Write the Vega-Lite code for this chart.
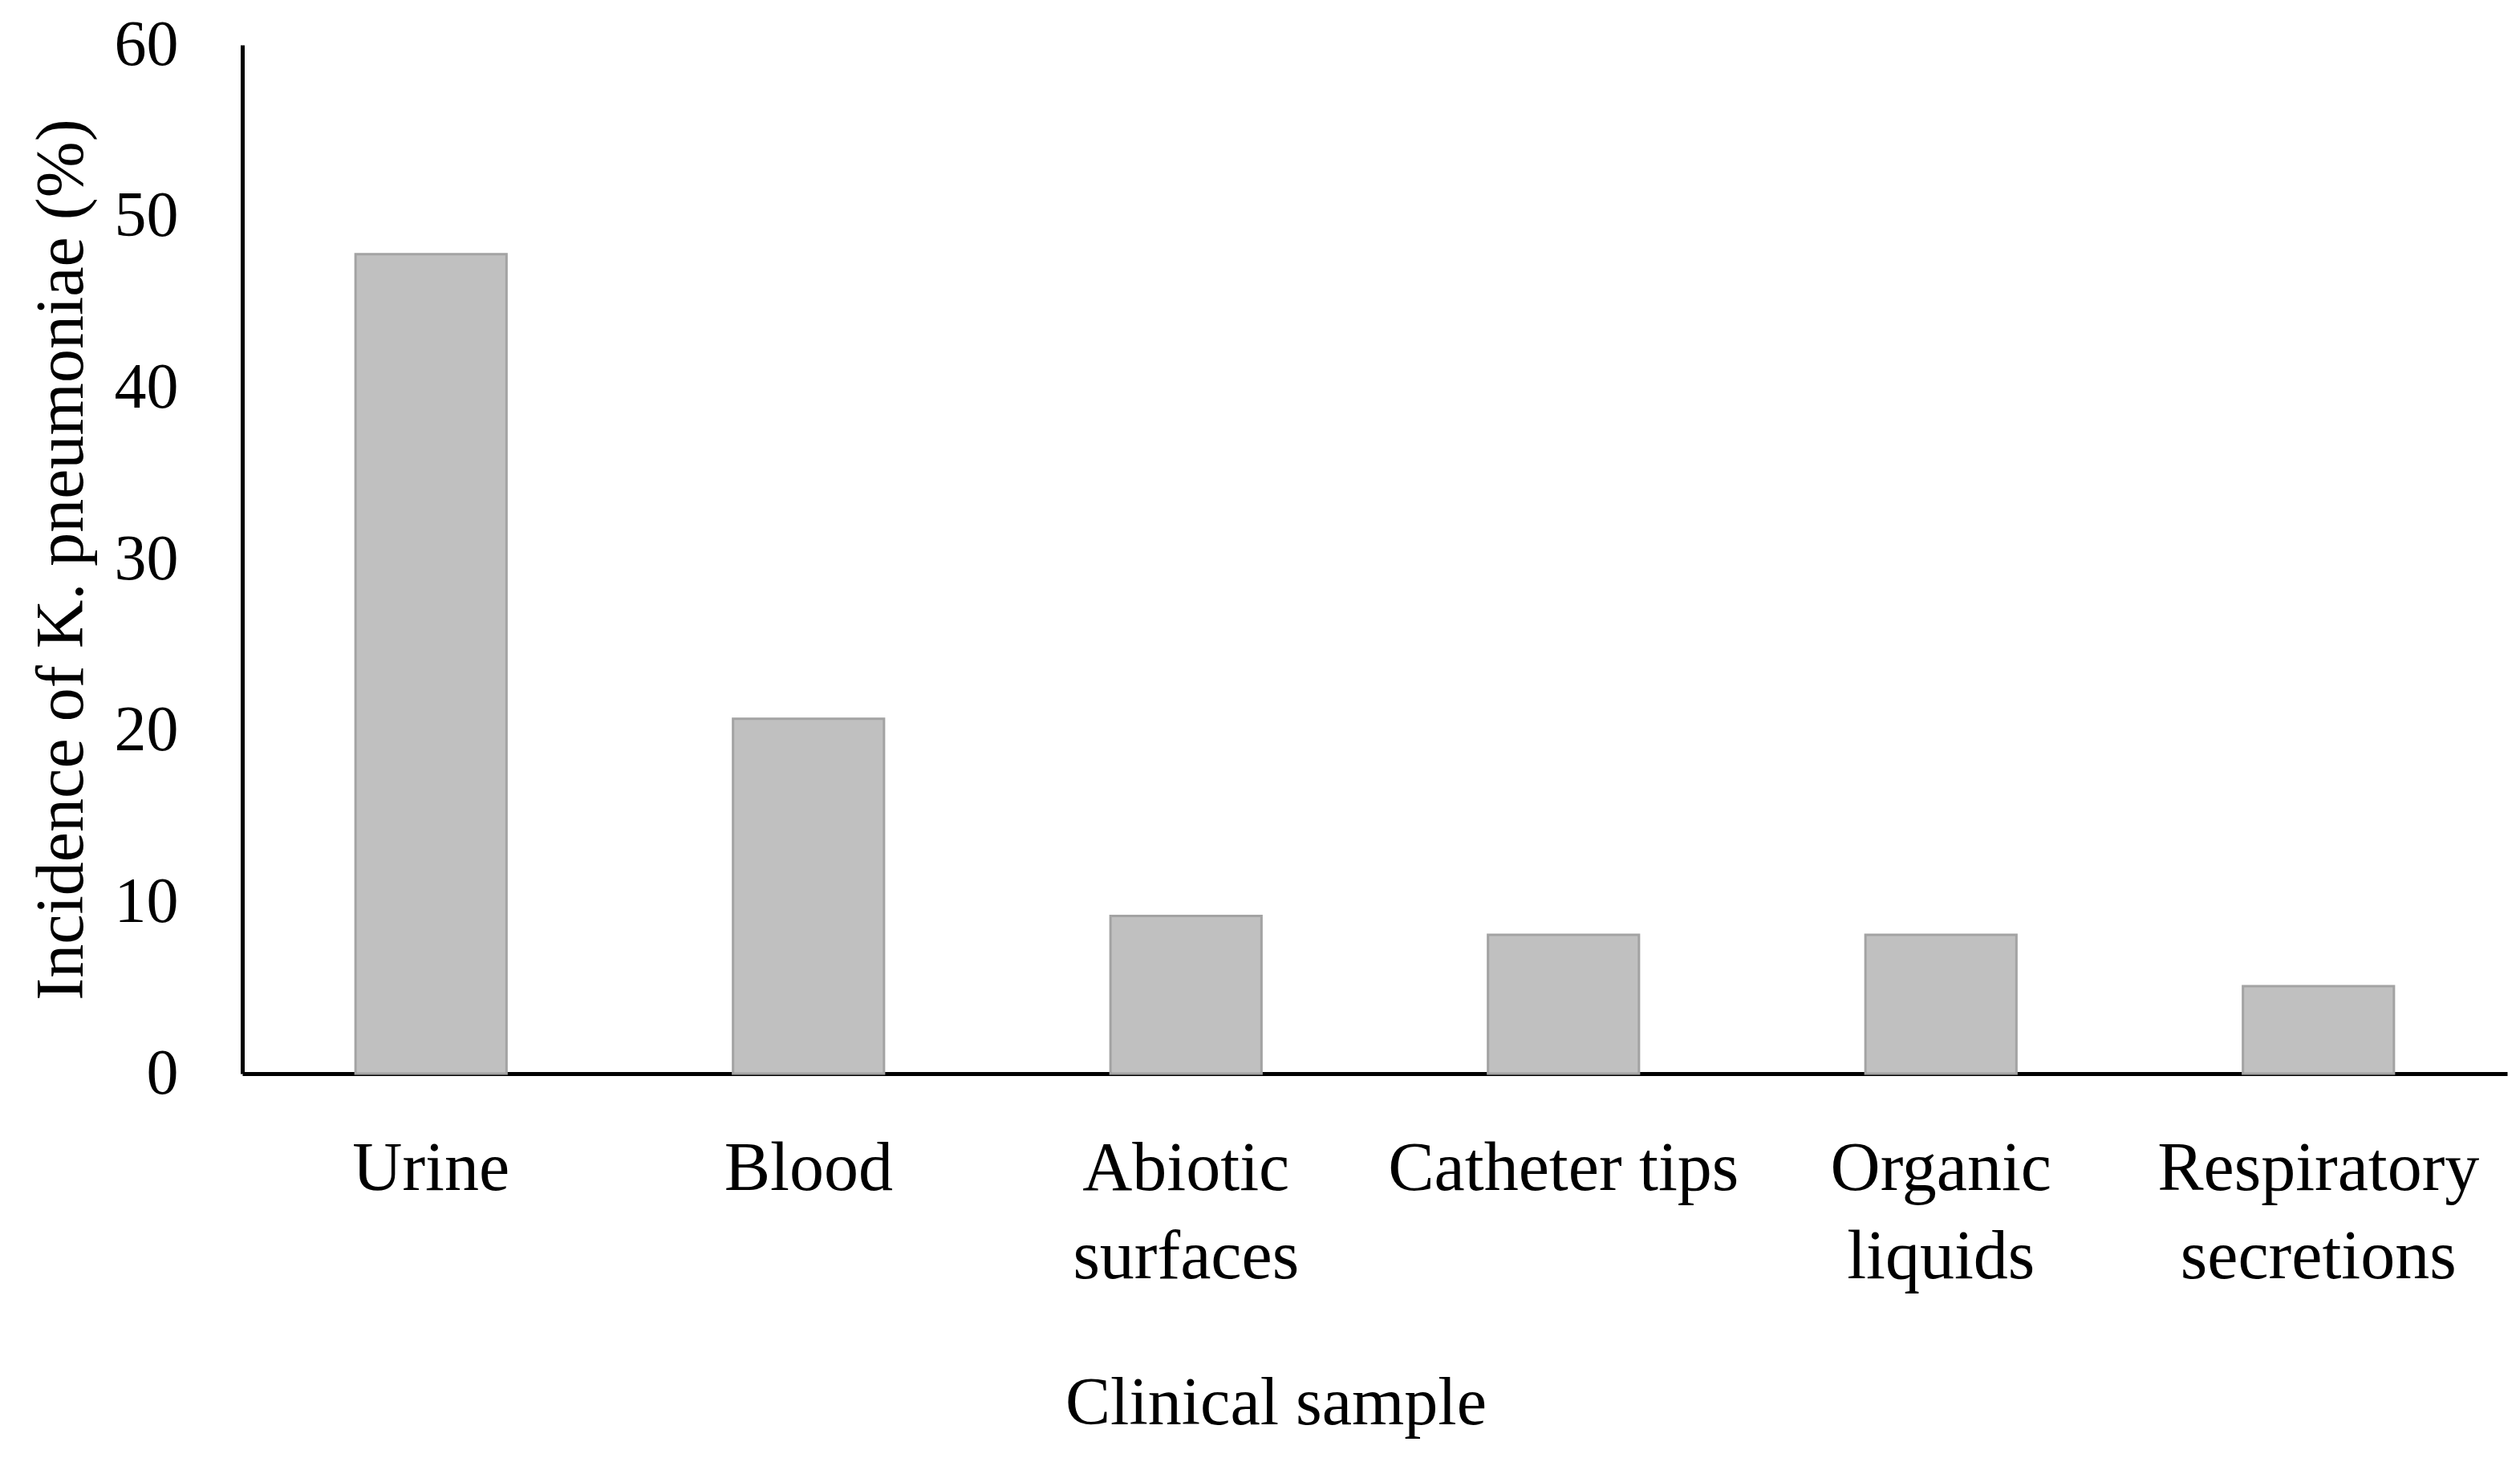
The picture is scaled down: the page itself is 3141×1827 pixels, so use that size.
{
  "$schema": "https://vega.github.io/schema/vega-lite/v6.json",
  "autosize": {"type": "none"},
  "padding": {"left": 302, "top": 56, "right": 16, "bottom": 489},
  "width": 2823,
  "height": 1282,
  "background": "white",
  "config": {
    "view": {"stroke": null},
    "font": "Liberation Serif",
    "axis": {"grid": false, "ticks": false, "domainColor": "#000000", "domainWidth": 5, "labelColor": "#000000", "titleColor": "#000000", "labelFont": "Liberation Serif", "titleFont": "Liberation Serif", "titleFontWeight": "normal", "labelLimit": 0}
  },
  "data": {
    "values": [
      {"sample": "Urine", "incidence": 47.8},
      {"sample": "Blood", "incidence": 20.7},
      {"sample": "Abiotic surfaces", "incidence": 9.2},
      {"sample": "Catheter tips", "incidence": 8.1},
      {"sample": "Organic liquids", "incidence": 8.1},
      {"sample": "Respiratory secretions", "incidence": 5.1}
    ]
  },
  "mark": {"type": "bar", "color": "#c0c0c0", "stroke": "#a3a3a3", "strokeWidth": 3},
  "encoding": {
    "x": {
      "field": "sample",
      "type": "nominal",
      "sort": null,
      "scale": {"paddingInner": 0.6, "paddingOuter": 0.3},
      "axis": {
        "title": "Clinical sample",
        "titleFontSize": 84,
        "titleX": 1288,
        "titlePadding": 170,
        "labelAngle": 0,
        "labelFontSize": 86,
        "labelPadding": 76,
        "labelLineHeight": 110,
        "labelBaseline": "top",
        "labelLimit": 0,
        "labelExpr": "indexof(datum.label, 'Catheter') >= 0 ? datum.label : split(datum.label, ' ')"
      }
    },
    "y": {
      "field": "incidence",
      "type": "quantitative",
      "scale": {"domain": [0, 60], "nice": false},
      "axis": {
        "title": "Incidence of K. pneumoniae (%)",
        "titleFontSize": 84,
        "titlePadding": 22,
        "values": [0, 10, 20, 30, 40, 50, 60],
        "labelFontSize": 80,
        "labelPadding": 80
      }
    }
  }
}
